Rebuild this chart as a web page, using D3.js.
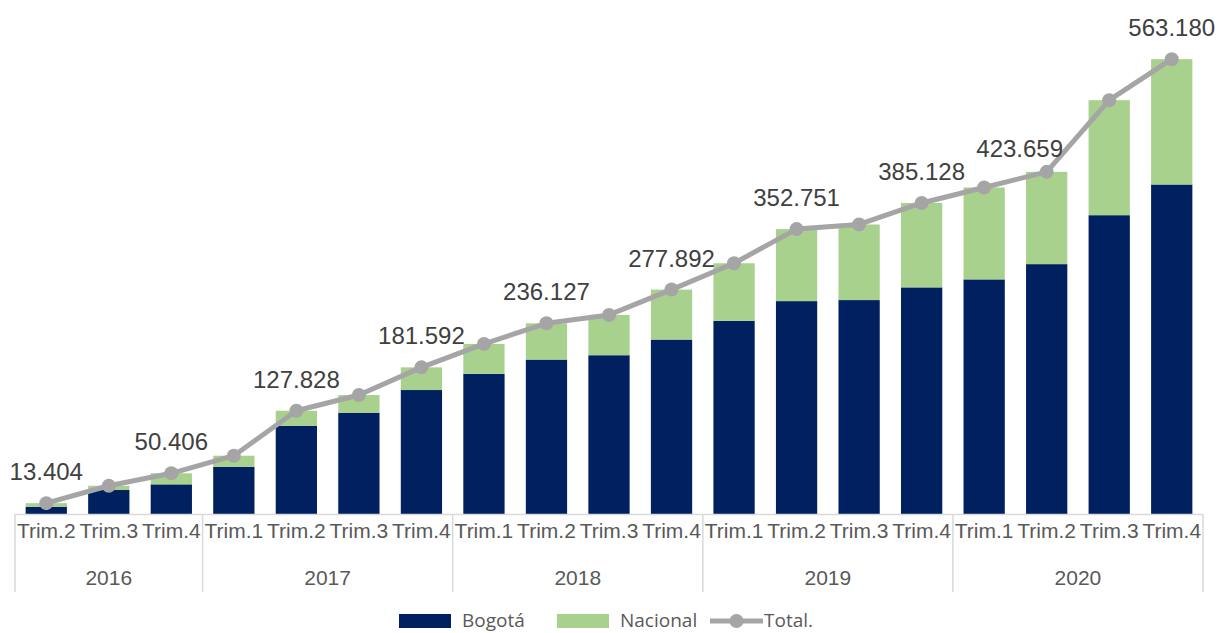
<!DOCTYPE html>
<html>
<head>
<meta charset="utf-8">
<script src="https://cdn.jsdelivr.net/npm/d3@7"></script>
<style>
  body { margin: 0; background: #fff; }
</style>
</head>
<body>
<script>
// quarters and years (category axis)
const quarters = ['Trim.2','Trim.3','Trim.4',
  'Trim.1','Trim.2','Trim.3','Trim.4',
  'Trim.1','Trim.2','Trim.3','Trim.4',
  'Trim.1','Trim.2','Trim.3','Trim.4',
  'Trim.1','Trim.2','Trim.3','Trim.4']
const years = ['2016','2016','2016',
  '2017','2017','2017','2017',
  '2018','2018','2018','2018',
  '2019','2019','2019','2019',
  '2020','2020','2020','2020']

// series values
const bogota = [9000, 29700, 36700, 58500, 109300, 125400, 153500,
  173500, 191200, 196600, 216000, 239100, 263600, 264900, 280600,
  290500, 309400, 370000, 408000]
const total = [13404, 35000, 50406, 72200, 127828, 147300, 181592,
  210600, 236127, 246500, 277892, 310500, 352751, 358500, 385128,
  404300, 423659, 512400, 563180]
const nacional = total.map((t,i) => t - bogota[i])

// which totals carry a label
const labelled = [true,false,true,false,true,false,true,false,true,false,
  true,false,true,false,true,false,true,false,true]

const data = quarters.map((q,i) => ({
  key: i, quarter: q, year: years[i],
  bogota: bogota[i], nacional: nacional[i], total: total[i], label: labelled[i]
}))

const width = 1219, height = 633
const margin = ({top: 29, right: 16, bottom: 119, left: 15})
const baseY = height - margin.bottom

const svg = d3.select('body').append('svg')
  .attr('width', width)
  .attr('height', height)
  .style('font-family', 'Arial, "Liberation Sans", sans-serif')

const xScale = d3.scaleBand()
  .domain(data.map(d => d.key))
  .range([margin.left, width - margin.right])
  .paddingInner(0.34)
  .paddingOuter(0.17)

const yScale = d3.scaleLinear()
  .domain([0, 600000])
  .range([baseY, baseY - 600000 * 0.0008076])

const cx = d => xScale(d.key) + xScale.bandwidth() / 2

const navy = '#002060', green = '#A9D18E', grey = '#A5A5A5'

// stacked bars
const stack = d3.stack().keys(['bogota','nacional'])(data)
const colors = {bogota: navy, nacional: green}

svg.append('g')
  .selectAll('g')
  .data(stack)
  .join('g')
  .attr('fill', s => colors[s.key])
  .selectAll('rect')
  .data(s => s)
  .join('rect')
  .attr('x', d => xScale(d.data.key))
  .attr('width', xScale.bandwidth())
  .attr('y', d => yScale(d[1]))
  .attr('height', d => yScale(d[0]) - yScale(d[1]))

// category axis: baseline + group separators
const step = xScale.step()
const groups = d3.groups(data, d => d.year)
const axis = svg.append('g')
  .attr('stroke', '#D9D9D9')
  .attr('stroke-width', 1.5)

axis.append('line')
  .attr('x1', margin.left).attr('x2', width - margin.right)
  .attr('y1', baseY + 0.5).attr('y2', baseY + 0.5)

// separators sit halfway between the last bar of a year and the first of the next
const bounds = [margin.left]
groups.forEach(([y, rows]) => {
  const last = rows[rows.length - 1]
  bounds.push(xScale(last.key) + xScale.bandwidth() / 2 + step / 2)
})
bounds[bounds.length - 1] = width - margin.right

axis.selectAll('.sep')
  .data(bounds)
  .join('line')
  .attr('x1', d => d).attr('x2', d => d)
  .attr('y1', baseY).attr('y2', baseY + 78)

// quarter labels
svg.append('g')
  .attr('fill', '#595959')
  .attr('font-size', 21)
  .attr('text-anchor', 'middle')
  .selectAll('text')
  .data(data)
  .join('text')
  .attr('x', cx)
  .attr('y', baseY + 24)
  .text(d => d.quarter)

// year labels
svg.append('g')
  .attr('fill', '#595959')
  .attr('font-size', 21)
  .attr('text-anchor', 'middle')
  .selectAll('text')
  .data(groups)
  .join('text')
  .attr('x', (g,i) => (bounds[i] + bounds[i+1]) / 2)
  .attr('y', baseY + 71)
  .text(g => g[0])

// total line
const line = d3.line()
  .x(cx)
  .y(d => yScale(d.total))

svg.append('path')
  .datum(data)
  .attr('fill', 'none')
  .attr('stroke', grey)
  .attr('stroke-width', 5)
  .attr('stroke-linejoin', 'round')
  .attr('d', line)

svg.append('g')
  .attr('fill', grey)
  .selectAll('circle')
  .data(data)
  .join('circle')
  .attr('cx', cx)
  .attr('cy', d => yScale(d.total))
  .attr('r', 7)

// value labels (2020 Trim.2 label was nudged up-left in the original)
svg.append('g')
  .attr('fill', '#404040')
  .attr('font-size', 24)
  .attr('text-anchor', 'middle')
  .selectAll('text')
  .data(data.filter(d => d.label))
  .join('text')
  .attr('x', d => cx(d) + (d.key === 16 ? -27 : 0))
  .attr('y', d => yScale(d.total) - (d.key === 16 ? 15 : 23))
  .text(d => d3.format(',')(d.total).replace(/,/g, '.'))

// legend
const legend = svg.append('g')
  .attr('font-family', '"Open Sans", "Noto Sans", sans-serif')
  .attr('font-size', 19)
  .attr('fill', '#595959')

legend.append('rect').attr('x', 399).attr('y', 614).attr('width', 52).attr('height', 14).attr('fill', navy)
legend.append('text').attr('x', 462).attr('y', 627).text('Bogotá')
legend.append('rect').attr('x', 557).attr('y', 614).attr('width', 52).attr('height', 14).attr('fill', green)
legend.append('text').attr('x', 620).attr('y', 627).text('Nacional')
legend.append('line').attr('x1', 710).attr('x2', 763).attr('y1', 621).attr('y2', 621)
  .attr('stroke', grey).attr('stroke-width', 5)
legend.append('circle').attr('cx', 736.5).attr('cy', 621).attr('r', 7).attr('fill', grey)
legend.append('text').attr('x', 764).attr('y', 627).text('Total.')
</script>
</body>
</html>
